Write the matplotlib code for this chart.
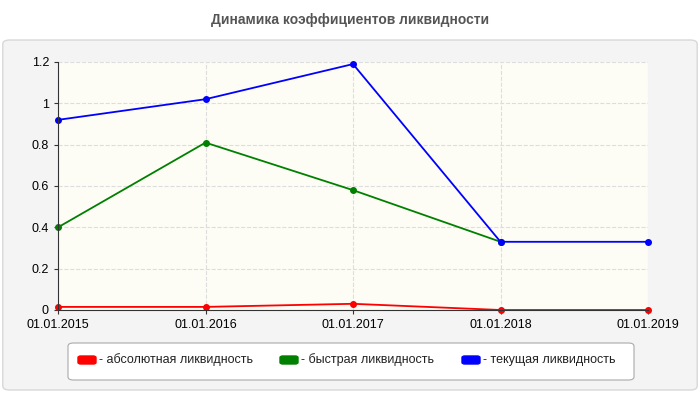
import matplotlib
matplotlib.use("Agg")
import matplotlib.pyplot as plt
from matplotlib.patches import FancyBboxPatch

plt.rcParams['font.family'] = ['Liberation Sans', 'DejaVu Sans']

dates = ["01.01.2015", "01.01.2016", "01.01.2017", "01.01.2018", "01.01.2019"]
absolute = [0.015, 0.015, 0.03, 0.0, 0.0]
quick = [0.40, 0.81, 0.58, 0.33, None]
current = [0.92, 1.02, 1.19, 0.33, 0.33]
yticks = [0, 0.2, 0.4, 0.6, 0.8, 1, 1.2]
ylabels = ["0", "0.2", "0.4", "0.6", "0.8", "1", "1.2"]

fig = plt.figure(figsize=(7, 4), dpi=100)
bg = FancyBboxPatch((0.004, 0.025), 0.992, 0.875, boxstyle="round,pad=0,rounding_size=0.01",
                    transform=fig.transFigure, fc="#f4f4f4", ec="#d8d8d8", lw=1, zorder=-5)
fig.patches.append(bg)
fig.text(0.5, 0.95, "Динамика коэффициентов ликвидности", ha="center", va="center",
         fontsize=10, fontweight="bold", color="#555555")
ax = fig.add_axes([58/700, 1-310/400, 590/700, 248/400])
ax.set_zorder(2)
ax.set_facecolor("#fdfdf6")
x = list(range(len(dates)))
ax.plot(x, absolute, color="red", marker="o", ms=4, lw=1.3, clip_on=False)
qx = [i for i, v in enumerate(quick) if v is not None]
ax.plot(qx, [quick[i] for i in qx], color="green", marker="o", ms=4, lw=1.3, clip_on=False)
ax.plot(x, current, color="blue", marker="o", ms=4, lw=1.3, clip_on=False)
ax.set_xlim(0, 4)
ax.set_ylim(0, 1.2)
ax.set_xticks(x, dates, fontsize=9)
ax.set_yticks(yticks, ylabels, fontsize=9)
ax.grid(True, ls="--", color="#dddddd", lw=0.8)
for s in ["top", "right"]:
    ax.spines[s].set_visible(False)
for s in ["left", "bottom"]:
    ax.spines[s].set_color("#333333")
ax.tick_params(length=3, color="#333333")

fig.patches.append(FancyBboxPatch((68/700, 1-380/400), 566/700, 37/400, boxstyle="round,pad=0,rounding_size=0.008",
                                  transform=fig.transFigure, fc="white", ec="#aaaaaa", lw=0.8))
items = [("red", "- абсолютная ликвидность", 78), ("green", "- быстрая ликвидность", 280), ("blue", "- текущая ликвидность", 462)]
for c, t, px in items:
    fig.patches.append(FancyBboxPatch((px/700, 1-364/400), 18/700, 8/400, boxstyle="round,pad=0,rounding_size=0.004",
                                      transform=fig.transFigure, fc=c, ec=c))
    fig.text((px+21)/700, 1-360/400, t, fontsize=9, va="center", color="#222222")
fig.savefig("out.png", dpi=100)
